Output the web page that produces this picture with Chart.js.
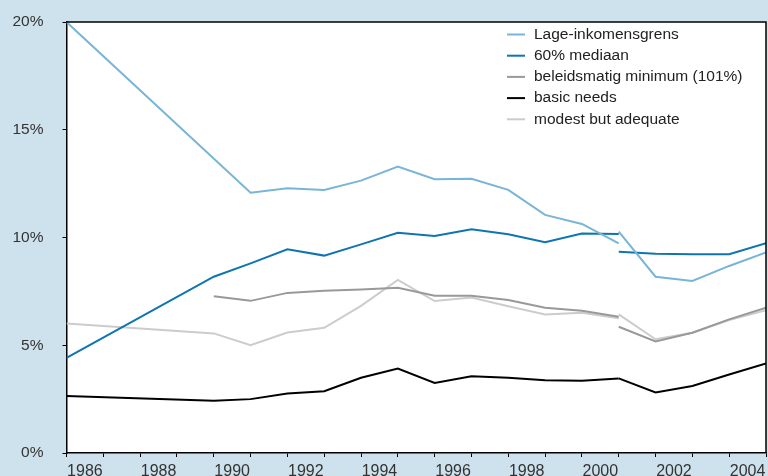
<!DOCTYPE html>
<html>
<head>
<meta charset="utf-8">
<script src="https://cdn.jsdelivr.net/npm/chart.js@4/dist/chart.umd.min.js"></script>
<style>
  html, body { margin: 0; padding: 0; background: #cde2ec; }
  #chart { display: block; }
</style>
</head>
<body>
<canvas id="chart" width="768" height="476"></canvas>
<script>
// years with a measurement (old series up to 2000, new series from 2000)
const yearsOld = [1985, 1989, 1990, 1991, 1992, 1993, 1994, 1995, 1996, 1997, 1998, 1999, 2000]
const yearsNew = [2000, 2001, 2002, 2003, 2004]

// percentages
const lageOld    = [20.0, null, 12.08, 12.29, 12.21, 12.64, 13.29, 12.70, 12.73, 12.21, 11.05, 10.63, 9.73]
const lageNew    = [10.27, 8.18, 7.98, 8.68, 9.31]
const mediaanOld = [4.41, 8.18, 8.80, 9.45, 9.16, 9.68, 10.22, 10.07, 10.38, 10.15, 9.78, 10.19, 10.16]
const mediaanNew = [9.34, 9.25, 9.22, 9.22, 9.73]
const beleidOld  = [null, 7.27, 7.06, 7.43, 7.53, 7.59, 7.67, 7.30, 7.30, 7.10, 6.74, 6.60, 6.32]
const beleidNew  = [5.86, 5.18, 5.58, 6.20, 6.74]
const basicOld   = [2.65, 2.42, 2.50, 2.76, 2.87, 3.49, 3.92, 3.25, 3.56, 3.49, 3.38, 3.35, 3.46]
const basicNew   = [3.46, 2.81, 3.11, 3.64, 4.15]
const modestOld  = [6.01, 5.55, 5.00, 5.59, 5.81, 6.83, 8.03, 7.05, 7.22, 6.81, 6.43, 6.51, 6.25]
const modestNew  = [6.43, 5.28, 5.58, 6.17, 6.63]

const seriesNames = ['Lage-inkomensgrens', '60% mediaan', 'beleidsmatig minimum (101%)', 'basic needs', 'modest but adequate']
const seriesColors = ['#78b5d6', '#0e75b0', '#999999', '#000000', '#cccccc']

const xLabelYears = [1986, 1988, 1990, 1992, 1994, 1996, 1998, 2000, 2002, 2004]
const yTicks = [0, 5, 10, 15, 20]

function pts(xs, ys) {
    return xs.map((x, i) => ({ x: x, y: ys[i] }))
}

const pairs = [
    [lageOld, lageNew], [mediaanOld, mediaanNew], [beleidOld, beleidNew],
    [basicOld, basicNew], [modestOld, modestNew]
]

let datasets = []
pairs.forEach((p, i) => {
    datasets.push({
        label: seriesNames[i], data: pts(yearsOld, p[0]), inLegend: true,
        borderColor: seriesColors[i], borderWidth: 2, pointRadius: 0, spanGaps: true, tension: 0
    })
    datasets.push({
        label: seriesNames[i] + ' (nieuw)', data: pts(yearsNew, p[1]), inLegend: false,
        borderColor: seriesColors[i], borderWidth: 2, pointRadius: 0, spanGaps: true, tension: 0
    })
})

// background, white plot box with frame, and the legend inside the plot
const frame = {
    id: 'frame',
    beforeDraw(chart) {
        const c = chart.ctx, a = chart.chartArea
        c.save()
        c.fillStyle = '#cde2ec'
        c.fillRect(0, 0, chart.width, chart.height)
        c.fillStyle = '#ffffff'
        c.fillRect(a.left, a.top, a.right - a.left, a.bottom - a.top)
        c.restore()
    },
    afterDraw(chart) {
        const c = chart.ctx, a = chart.chartArea
        c.save()
        c.strokeStyle = '#000'
        c.lineWidth = 1.5
        c.beginPath()
        c.moveTo(a.left, a.top)
        c.lineTo(a.right, a.top)
        c.lineTo(a.right, a.bottom)
        c.stroke()
        // legend
        c.font = '15.5px "Liberation Sans", Arial, sans-serif'
        c.textBaseline = 'middle'
        c.fillStyle = '#222'
        let row = 0
        chart.data.datasets.forEach(ds => {
            if (!ds.inLegend) return
            const y = 34.5 + row * 21.2
            c.strokeStyle = ds.borderColor
            c.lineWidth = 2
            c.beginPath()
            c.moveTo(507, y)
            c.lineTo(525, y)
            c.stroke()
            c.fillText(ds.label, 534, y)
            row++
        })
        c.restore()
    }
}

new Chart(document.getElementById('chart'), {
    type: 'line',
    data: { datasets: datasets },
    plugins: [frame],
    options: {
        responsive: false,
        animation: false,
        layout: { padding: { top: 22, right: 2, left: 0, bottom: 0 } },
        plugins: { legend: { display: false }, tooltip: { enabled: false } },
        scales: {
            x: {
                type: 'linear',
                min: 1985,
                max: 2004,
                afterBuildTicks: function (scale) {
                    let t = []
                    for (let y = 1985; y <= 2004; y++) t.push({ value: y })
                    xLabelYears.forEach(y => t.push({ value: y - 0.5 }))
                    t.sort((a, b) => a.value - b.value)
                    scale.ticks = t
                },
                afterFit: function (scale) {
                    scale.height = 23
                    scale.paddingLeft = 0
                    scale.paddingRight = 0
                },
                border: { color: '#000', width: 1.5 },
                grid: {
                    drawOnChartArea: false,
                    tickLength: 4,
                    color: ctx => (ctx.tick && ctx.tick.value % 1 === 0) ? '#000' : 'rgba(0,0,0,0)'
                },
                ticks: {
                    autoSkip: false,
                    maxRotation: 0,
                    padding: 5,
                    color: '#333',
                    font: { family: '"Liberation Sans", Arial, sans-serif', size: 16 },
                    callback: function (v) {
                        return (v % 1 !== 0 && xLabelYears.includes(v + 0.5)) ? String(v + 0.5) : ''
                    }
                }
            },
            y: {
                min: 0,
                max: 20,
                afterBuildTicks: function (scale) {
                    scale.ticks = yTicks.map(v => ({ value: v }))
                },
                afterFit: function (scale) {
                    scale.width = 66.5
                    scale.paddingTop = 0
                    scale.paddingBottom = 0
                },
                border: { color: '#000', width: 1.5 },
                grid: { drawOnChartArea: false, tickLength: 4, color: '#000' },
                ticks: {
                    padding: 19,
                    color: '#333',
                    font: { family: '"Liberation Sans", Arial, sans-serif', size: 15.5 },
                    callback: v => v + '%'
                }
            }
        }
    }
})
</script>
</body>
</html>
